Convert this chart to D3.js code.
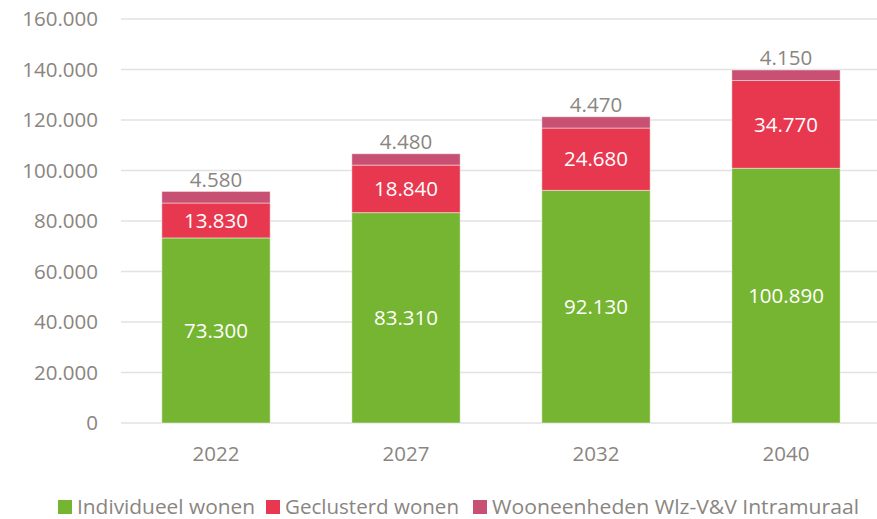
<!DOCTYPE html>
<html lang="nl">
<head>
  <meta charset="UTF-8" />
  <title>Wonen per jaar</title>
  <script src="https://d3js.org/d3.v7.min.js"></script>
  <style>
    body { margin: 0; background: #fff; }
    text { font-family: "Open Sans", "Liberation Sans", sans-serif; }
  </style>
</head>
<body>
  <svg width="877" height="519"></svg>
  <script>
    const years = ["2022", "2027", "2032", "2040"];
    const individueel = [73300, 83310, 92130, 100890];
    const geclusterd = [13830, 18840, 24680, 34770];
    const wlz = [4580, 4480, 4470, 4150];
    const seriesNames = ["Individueel wonen", "Geclusterd wonen", "Wooneenheden Wlz-V&V Intramuraal"];
    const yTicks = [0, 20000, 40000, 60000, 80000, 100000, 120000, 140000, 160000];

    const colors = ["#76b531", "#e8384f", "#c75073"];
    const grey = "#8a8580";

    const nl = d3.formatLocale({ decimal: ",", thousands: ".", grouping: [3], currency: ["€", ""] });
    const fmt = nl.format(",d");

    const data = years.map((y, i) => ({
      year: y,
      "Individueel wonen": individueel[i],
      "Geclusterd wonen": geclusterd[i],
      "Wooneenheden Wlz-V&V Intramuraal": wlz[i]
    }));

    const svg = d3.select("svg");

    const x = d3.scaleBand()
      .domain(years)
      .range([121, 881])
      .paddingInner(0.43)
      .paddingOuter(0.215);

    const y = d3.scaleLinear()
      .domain([0, 160000])
      .range([423, 19]);

    // gridlines
    svg.append("g")
      .selectAll("line")
      .data(yTicks)
      .join("line")
      .attr("x1", 121)
      .attr("x2", 877)
      .attr("y1", d => y(d))
      .attr("y2", d => y(d))
      .attr("stroke", "#e2e2e2")
      .attr("stroke-width", 1.5);

    // y labels
    svg.append("g")
      .selectAll("text")
      .data(yTicks)
      .join("text")
      .attr("x", 98)
      .attr("y", d => y(d))
      .attr("dy", "0.35em")
      .attr("text-anchor", "end")
      .attr("fill", grey)
      .style("font-size", "20.5px")
      .text(d => fmt(d));

    const stack = d3.stack().keys(seriesNames)(data);

    const layers = svg.append("g")
      .selectAll("g")
      .data(stack)
      .join("g")
      .attr("fill", (d, i) => colors[i]);

    layers.selectAll("rect")
      .data(d => d)
      .join("rect")
      .attr("x", d => x(d.data.year))
      .attr("width", x.bandwidth())
      .attr("y", d => y(d[1]))
      .attr("height", d => y(d[0]) - y(d[1]))
      .attr("stroke", "rgba(255,255,255,0.45)")
      .attr("stroke-width", 1);

    // labels inside green and red segments
    stack.slice(0, 2).forEach(layer => {
      svg.append("g")
        .selectAll("text")
        .data(layer)
        .join("text")
        .attr("x", d => x(d.data.year) + x.bandwidth() / 2)
        .attr("y", d => (y(d[0]) + y(d[1])) / 2)
        .attr("dy", "0.35em")
        .attr("text-anchor", "middle")
        .attr("fill", "#fff")
        .style("font-size", "20.5px")
        .text(d => fmt(d[1] - d[0]));
    });

    // labels above top segment
    svg.append("g")
      .selectAll("text")
      .data(stack[2])
      .join("text")
      .attr("x", d => x(d.data.year) + x.bandwidth() / 2)
      .attr("y", d => y(d[1]) - 12)
      .attr("dy", "0.35em")
      .attr("text-anchor", "middle")
      .attr("fill", grey)
      .style("font-size", "20.5px")
      .text(d => fmt(d[1] - d[0]));

    // x labels
    svg.append("g")
      .selectAll("text")
      .data(years)
      .join("text")
      .attr("x", d => x(d) + x.bandwidth() / 2)
      .attr("y", 454)
      .attr("dy", "0.35em")
      .attr("text-anchor", "middle")
      .attr("fill", grey)
      .style("font-size", "20.5px")
      .text(d => d);

    // legend
    const legendX = [58, 266, 473];
    const legendW = [178, 174, 367];
    const legend = svg.append("g")
      .selectAll("g")
      .data(seriesNames)
      .join("g")
      .attr("transform", (d, i) => `translate(${legendX[i]},507)`);

    legend.append("rect")
      .attr("x", 0)
      .attr("y", -7)
      .attr("width", 14)
      .attr("height", 14)
      .attr("fill", (d, i) => colors[i]);

    legend.append("text")
      .attr("x", 19)
      .attr("y", 0)
      .attr("dy", "0.35em")
      .attr("fill", grey)
      .attr("textLength", (d, i) => legendW[i])
      .attr("lengthAdjust", "spacingAndGlyphs")
      .style("font-size", "20.5px")
      .text(d => d);
  </script>
</body>
</html>
